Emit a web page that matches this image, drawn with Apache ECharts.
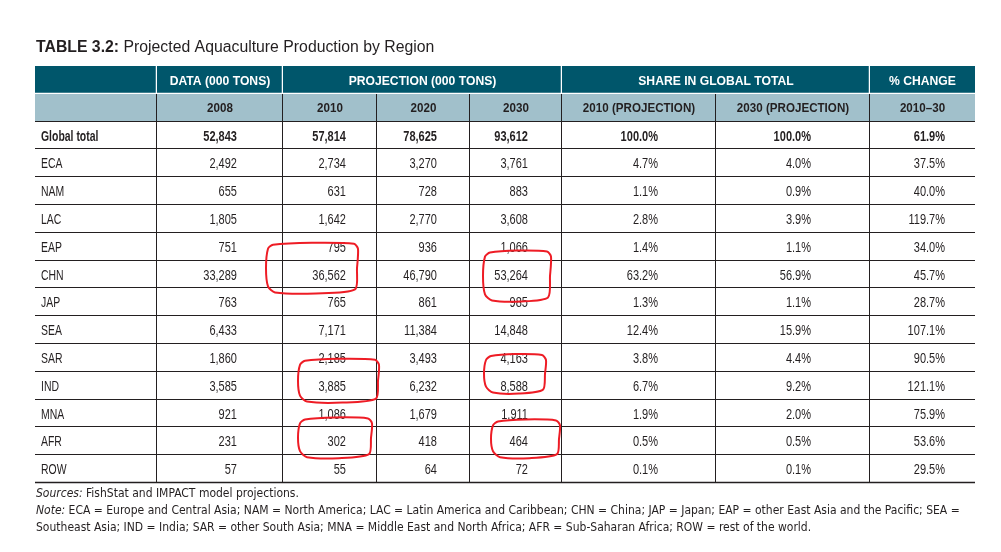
<!DOCTYPE html>
<html><head><meta charset="utf-8">
<script src="https://cdn.jsdelivr.net/npm/echarts@6/dist/echarts.min.js"></script>
<style>html,body{margin:0;padding:0;background:#fff}#main{width:1001px;height:552px}</style>
</head><body><div id="main"></div>
<script>
// ---------- data ----------
const regions = ['Global total','ECA','NAM','LAC','EAP','CHN','JAP','SEA','SAR','IND','MNA','AFR','ROW'];
const data2008 = [52843,2492,655,1805,751,33289,763,6433,1860,3585,921,231,57];
const proj2010 = [57814,2734,631,1642,795,36562,765,7171,2185,3885,1086,302,55];
const proj2020 = [78625,3270,728,2770,936,46790,861,11384,3493,6232,1679,418,64];
const proj2030 = [93612,3761,883,3608,1066,53264,985,14848,4163,8588,1911,464,72];
const share2010 = [100.0,4.7,1.1,2.8,1.4,63.2,1.3,12.4,3.8,6.7,1.9,0.5,0.1];
const share2030 = [100.0,4.0,0.9,3.9,1.1,56.9,1.1,15.9,4.4,9.2,2.0,0.5,0.1];
const change2010to30 = [61.9,37.5,40.0,119.7,34.0,45.7,28.7,107.1,90.5,121.1,75.9,53.6,29.5];
const groupHeaders = ['', 'DATA (000 TONS)', 'PROJECTION (000 TONS)', 'SHARE IN GLOBAL TOTAL', '% CHANGE'];
const groupColumnSpans = [1,1,3,2,1];
const columnHeaders = ['', '2008', '2010', '2020', '2030', '2010 (PROJECTION)', '2030 (PROJECTION)', '2010–30'];
// hand-drawn red marks: [column header, first row, last row]
const circledCells = [['2010','EAP','CHN'],['2030','CHN','CHN'],['2010','IND','IND'],['2030','SAR','IND'],['2010','AFR','AFR'],['2030','AFR','AFR']];
const titleBold = 'TABLE 3.2:';
const titleText = ' Projected Aquaculture Production by Region';
const sourceNote = ['Sources:', ' FishStat and IMPACT model projections.'];
const noteLabel = 'Note:';
const noteLines = [' ECA = Europe and Central Asia; NAM = North America; LAC = Latin America and Caribbean; CHN = China; JAP = Japan; EAP = other East Asia and the Pacific; SEA =',
  'Southeast Asia; IND = India; SAR = other South Asia; MNA = Middle East and North Africa; AFR = Sub-Saharan Africa; ROW = rest of the world.'];

// ---------- layout / style ----------
const colWidths = [122,126,94,93,92,154,154,105];
const colRightPad = [0,46,31,33,34,58,59,30];
const edges = [0]; colWidths.forEach(w => edges.push(edges[edges.length-1] + w));
const TOTAL = edges[edges.length-1];
const circleAdjust = [[-16,-20,11,4],[14,-12,-9,12],[16,1,-12,2],[15,-17,11,-7],[16,-6,-9,2],[22,-3,-7,2]];
const FONT = '"Liberation Sans",Arial,sans-serif';
const NOTEFONT = '"DejaVu Sans Condensed","DejaVu Sans",sans-serif';
const DARK = '#00566b', LIGHT = '#a1c0cb', INK = '#231f20';

const fmtInt = v => String(v).replace(/\B(?=(\d{3})+(?!\d))/g, ',');
const fmtPct = v => v.toFixed(1) + '%';
const valueCols = [data2008, proj2010, proj2020, proj2030, share2010, share2030, change2010to30];
const fmts = [fmtInt, fmtInt, fmtInt, fmtInt, fmtPct, fmtPct, fmtPct];

const rowKeys = ['h1','h2'].concat(regions);
const cells = [];
let c = 0;
groupHeaders.forEach((t, g) => { cells.push({row:0, c0:c, c1:c+groupColumnSpans[g], text:t, kind:'h1'}); c += groupColumnSpans[g]; });
columnHeaders.forEach((t, i) => cells.push({row:1, c0:i, c1:i+1, text:t, kind:'h2'}));
regions.forEach((r, ri) => {
  cells.push({row:ri+2, c0:0, c1:1, text:r, kind:'label', bold: ri===0, last: ri===regions.length-1});
  valueCols.forEach((arr, k) => cells.push({row:ri+2, c0:k+1, c1:k+2, text:fmts[k](arr[ri]), kind:'val', bold: ri===0, last: ri===regions.length-1}));
});

function crisp(v){ return Math.round(v) + 0.5; }

function renderCell(params, api){
  const cell = cells[params.dataIndex];
  const h = api.size([0,1])[1];
  const yc = api.coord([0, cell.row])[1];
  const x0 = api.coord([edges[cell.c0], cell.row])[0];
  const x1 = api.coord([edges[cell.c1], cell.row])[0];
  const top = yc - h/2, bot = yc + h/2;
  const ch = [];
  if (cell.kind === 'h1' || cell.kind === 'h2') {
    ch.push({type:'rect', shape:{x:x0, y:Math.round(top), width:x1-x0, height:Math.round(bot)-Math.round(top)}, style:{fill: cell.kind==='h1'?DARK:LIGHT}});
  }
  const lineCol = cell.kind==='h1' ? '#ffffff' : INK;
  ch.push({type:'line', shape:{x1:x0, y1:crisp(bot)-1, x2:x1, y2:crisp(bot)-1}, style:{stroke:lineCol, lineWidth: cell.kind==='h1'?1.5:(cell.last?1.5:1)}});
  if (cell.c1 < colWidths.length) {
    ch.push({type:'line', shape:{x1:crisp(x1)-1, y1:Math.round(top), x2:crisp(x1)-1, y2:Math.round(bot)}, style:{stroke:lineCol, lineWidth: cell.kind==='h1'?1.5:1}});
  }
  let tx, align;
  if (cell.kind==='label') { tx = x0 + 6; align = 'left'; }
  else if (cell.kind==='val') { tx = x1 - colRightPad[cell.c0]; align = 'right'; }
  else { tx = (x0 + x1)/2; align = 'center'; }
  const isHead = cell.kind==='h1' || cell.kind==='h2';
  const sx = cell.kind==='h1' ? 0.9 : (cell.kind==='h2' ? 0.86 : (cell.kind==='label' ? 0.72 : 0.76));
  ch.push({type:'text', x: tx, y: yc + 1, scaleX: sx, scaleY: 1,
    style: {text: cell.text, x: 0, y: 0, align: align, verticalAlign:'middle', fontFamily: FONT,
      fontSize: cell.kind==='h1'?13.5:(cell.kind==='h2'?13.5:14.5), fontWeight: isHead || cell.bold ? 'bold':'normal',
      fill: cell.kind==='h1' ? '#ffffff' : INK}});
  return {type:'group', children: ch};
}

function renderCircle(params, api){
  const [col, rFrom, rTo] = circledCells[params.dataIndex];
  const adj = circleAdjust[params.dataIndex];
  const ci = columnHeaders.indexOf(col);
  const i0 = rowKeys.indexOf(rFrom), i1 = rowKeys.indexOf(rTo);
  const h = api.size([0,1])[1];
  const X0 = api.coord([edges[ci], i0])[0] + adj[0];
  const X1 = api.coord([edges[ci+1], i0])[0] + adj[1];
  const Y0 = api.coord([0, i0])[1] - h/2 + adj[2];
  const Y1 = api.coord([0, i1])[1] + h/2 + adj[3];
  const xm = (X0+X1)/2, ym = (Y0+Y1)/2;
  const pts = [[X0+6,Y0+1],[xm,Y0-1],[X1-3,Y0],[X1+1,Y0+5],[X1,ym],[X1-2,Y1-3],[xm+4,Y1+1],[X0+8,Y1],[X0+1,Y1-6],[X0-1,ym],[X0+1,Y0+5]];
  return {type:'polygon', shape:{points:pts, smooth:0.25}, style:{fill:'none', stroke:'#ee1c25', lineWidth:2}};
}

const chart = echarts.init(document.getElementById('main'), null, {renderer:'canvas'});
chart.setOption({
  animation:false,
  backgroundColor:'#ffffff',
  grid:{left:35, right:1001-35-TOTAL, top:66, bottom:69, containLabel:false},
  xAxis:{type:'value', min:0, max:TOTAL, show:false},
  yAxis:{type:'category', data:rowKeys, inverse:true, show:false},
  series:[
    {type:'custom', renderItem:renderCell, data:cells.map(d=>[edges[d.c0], d.row]), encode:{x:0,y:1}, silent:true, z:2},
    {type:'custom', renderItem:renderCircle, data:circledCells.map(d=>[edges[columnHeaders.indexOf(d[0])], rowKeys.indexOf(d[1])]), encode:{x:0,y:1}, silent:true, z:5, clip:false}
  ],
  graphic:[
    {type:'text', left:36, top:40, style:{text:'{b|'+titleBold+'}'+titleText, fontFamily:FONT, fontSize:15.8, fill:INK,
      rich:{b:{fontWeight:'bold', fontFamily:FONT, fontSize:15.8, fill:INK}}}},
    {type:'text', left:36, top:488, style:{text:'{i|'+sourceNote[0]+'}'+sourceNote[1], fontFamily:NOTEFONT, fontSize:12, fill:INK,
      rich:{i:{fontStyle:'italic', fontFamily:NOTEFONT, fontSize:12, fill:INK}}}},
    {type:'text', left:36, top:505, style:{text:'{i|'+noteLabel+'}'+noteLines[0], fontFamily:NOTEFONT, fontSize:12, fill:INK,
      rich:{i:{fontStyle:'italic', fontFamily:NOTEFONT, fontSize:12, fill:INK}}}},
    {type:'text', left:36, top:522, style:{text:noteLines[1], fontFamily:NOTEFONT, fontSize:12, fill:INK}}
  ]
});
</script></body></html>
